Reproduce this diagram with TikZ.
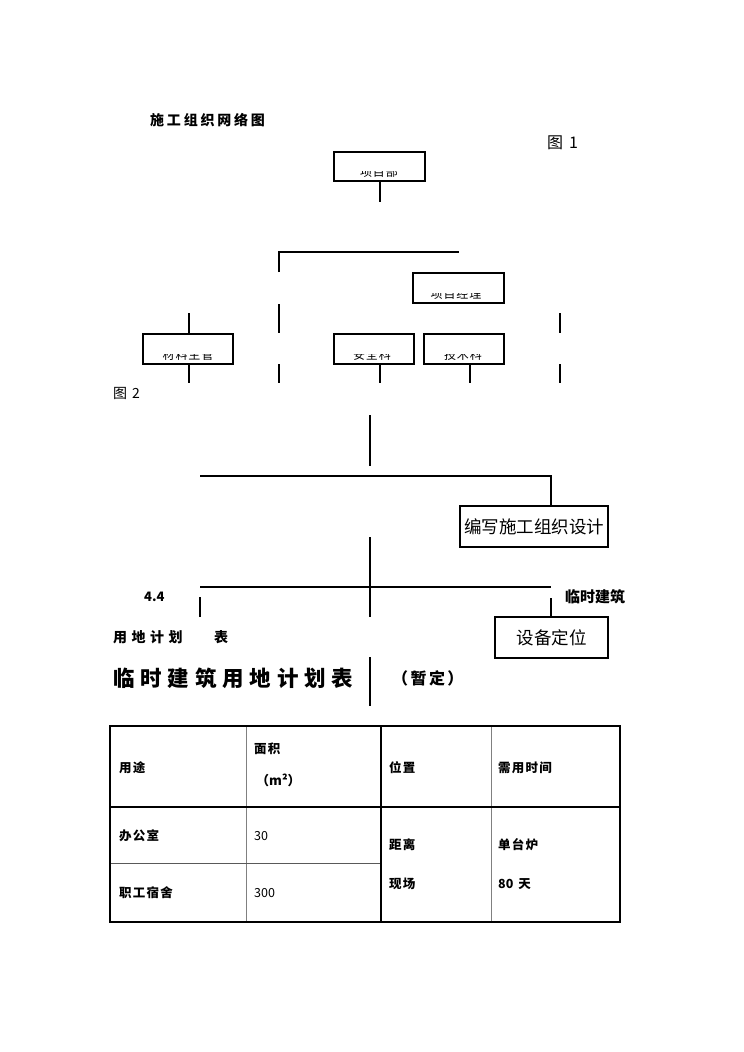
\documentclass[tikz,border=0pt]{standalone}
\usepackage{fontspec}
\setmainfont{Noto Sans CJK SC}
\tikzset{
  box/.style={draw, line width=1.4pt, inner sep=0pt},
  link/.style={line width=1.4pt},
  thickline/.style={line width=2pt},
  boxlabel/.style={anchor=base, inner sep=0pt, font=\fontsize{12}{12}\selectfont\addfontfeature{LetterSpace=8}},
  cell/.style={anchor=west, inner sep=0pt, font=\fontsize{12.5}{12.5}\selectfont\bfseries\addfontfeature{LetterSpace=10}},
  num/.style={anchor=west, inner sep=0pt, font=\fontsize{12.5}{12.5}\selectfont}
}
\begin{document}
\begin{tikzpicture}[x=1pt, y=-1pt]
            \useasboundingbox (0,0) rectangle (744,1052);

            % Titles
            \node[anchor=west, inner sep=0pt, font=\fontsize{14}{14}\selectfont\bfseries\addfontfeature{LetterSpace=20}] (title) at (150,120) {施工组织网络图};
            \node[anchor=west, inner sep=0pt, font=\fontsize{16}{16}\selectfont] (fig1) at (547,143) {图\hspace{6pt}1};
            \node[anchor=west, inner sep=0pt, font=\fontsize{14}{14}\selectfont] (fig2) at (113,393) {图\hspace{5pt}2};

            % Boxes of figure 1
            \node[box, minimum width=91pt, minimum height=29pt] (dept) at (379.5,166.5) {};
            \node[box, minimum width=91pt, minimum height=30pt] (mgr) at (458.5,288) {};
            \node[box, minimum width=90pt, minimum height=30pt] (mat) at (188,349) {};
            \node[box, minimum width=80pt, minimum height=30pt] (safe) at (374,349) {};
            \node[box, minimum width=80pt, minimum height=30pt] (tech) at (464,349) {};

            % Labels, cut off at the top as in the original
            \begin{scope}
              \clip (dept.south west) rectangle ([yshift=10pt]dept.south east);
              \node[boxlabel] (deptlabel) at (379,176) {项目部};
            \end{scope}
            \begin{scope}
              \clip (mgr.south west) rectangle ([yshift=10pt]mgr.south east);
              \node[boxlabel] (mgrlabel) at (456,298) {项目经理};
            \end{scope}
            \begin{scope}
              \clip (mat.south west) rectangle ([yshift=10pt]mat.south east);
              \node[boxlabel] (matlabel) at (188,359) {材料主管};
            \end{scope}
            \begin{scope}
              \clip (safe.south west) rectangle ([yshift=10pt]safe.south east);
              \node[boxlabel] (safelabel) at (372,359) {安全科};
            \end{scope}
            \begin{scope}
              \clip (tech.south west) rectangle ([yshift=10pt]tech.south east);
              \node[boxlabel] (techlabel) at (463,359) {技术科};
            \end{scope}

            % Line ends of figure 1
            \coordinate (deptend) at (380,202);
            \coordinate (brl) at (279,272);
            \coordinate (brc) at (279,252);
            \coordinate (brr) at (459,252);
            \coordinate (la1) at (279,304);
            \coordinate (la2) at (279,333);
            \coordinate (lb1) at (279,364);
            \coordinate (lb2) at (279,383);
            \coordinate (ra1) at (560,313);
            \coordinate (ra2) at (560,333);
            \coordinate (rb1) at (560,364);
            \coordinate (rb2) at (560,383);
            \coordinate (mattop) at (189,313);
            \coordinate (matend) at (189,383);
            \coordinate (safeend) at (380,383);
            \coordinate (techend) at (470,383);

            \draw[link] (dept.south -| deptend) -- (deptend);
            \draw[link] (brl) -- (brc) -- (brr);
            \draw[link] (la1) -- (la2);
            \draw[link] (lb1) -- (lb2);
            \draw[link] (ra1) -- (ra2);
            \draw[link] (rb1) -- (rb2);
            \draw[link] (mattop) -- (mattop |- mat.north);
            \draw[link] (matend |- mat.south) -- (matend);
            \draw[link] (safeend |- safe.south) -- (safeend);
            \draw[link] (techend |- tech.south) -- (techend);

            % Figure 2
            \node[box, minimum width=148pt, minimum height=41pt, font=\fontsize{17.5}{17.5}\selectfont] (write) at (534,526.5) {编写施工组织设计};
            \node[box, minimum width=113pt, minimum height=41pt, font=\fontsize{17.5}{17.5}\selectfont] (equip) at (551.5,637.5) {设备定位};

            \coordinate (s1a) at (370,415);
            \coordinate (s1b) at (370,466);
            \coordinate (h1l) at (200,476);
            \coordinate (h1r) at (551,476);
            \coordinate (s2a) at (370,537);
            \coordinate (s2b) at (370,617);
            \coordinate (h2l) at (200,587);
            \coordinate (h2r) at (551,587);
            \coordinate (d2a) at (200,597);
            \coordinate (d2b) at (200,617);
            \coordinate (d3a) at (551,598);
            \coordinate (s3a) at (370,657);
            \coordinate (s3b) at (370,706);

            \draw[thickline] (s1a) -- (s1b);
            \draw[link] (h1l) -- (h1r) -- (h1r |- write.north);
            \draw[thickline] (s2a) -- (s2b);
            \draw[link] (h2l) -- (h2r);
            \draw[link] (d2a) -- (d2b);
            \draw[link] (d3a) -- (d3a |- equip.north);
            \draw[thickline] (s3a) -- (s3b);

            % Heading texts
            \node[anchor=west, inner sep=0pt, font=\fontsize{13}{13}\selectfont\bfseries] (sec) at (144,597) {4.4};
            \node[anchor=west, inner sep=0pt, font=\fontsize{15}{15}\selectfont\bfseries] (tmp) at (565,597) {临时建筑};
            \node[anchor=west, inner sep=0pt, font=\fontsize{14}{14}\selectfont\bfseries\addfontfeature{LetterSpace=32}] (plan) at (113,637) {用地计划};
            \node[anchor=west, inner sep=0pt, font=\fontsize{14}{14}\selectfont\bfseries] (plantab) at (214,637) {表};
            \node[anchor=west, inner sep=0pt, font=\fontsize{21.5}{21.5}\selectfont\bfseries\addfontfeature{LetterSpace=27}] (tabtitle) at (113,678) {临时建筑用地计划表};
            \node[anchor=west, inner sep=0pt, font=\fontsize{16}{16}\selectfont\bfseries\addfontfeature{LetterSpace=15}] (tabnote) at (392,678) {（暂定）};

            % Table
            \draw[line width=1pt, gray] (246,726) -- (246,922);
            \draw[line width=1pt, gray] (491,726) -- (491,922);
            \draw[line width=1pt, gray!70!black] (110,863) -- (381,863);
            \draw[line width=1.3pt] (110,807) -- (620,807);
            \draw[line width=1.5pt] (381,726) -- (381,922);
            \draw[line width=2pt] (110,726) rectangle (620,922);

            \node[cell] (use) at (119,768) {用途};
            \node[cell] (area) at (254,749) {面积};
            \node[num, font=\fontsize{13}{13}\selectfont\bfseries] (unit) at (256,780) {（m²）};
            \node[cell] (place) at (389,768) {位置};
            \node[cell] (time) at (498,768) {需用时间};
            \node[cell] (office) at (119,836) {办公室};
            \node[num] (officearea) at (254,836) {30};
            \node[cell] (dorm) at (119,893) {职工宿舍};
            \node[num] (dormarea) at (254,893) {300};
            \node[cell] (dist) at (389,845) {距离};
            \node[cell] (site) at (389,884) {现场};
            \node[cell] (furnace) at (498,845) {单台炉};
            \node[num, font=\fontsize{12.5}{12.5}\selectfont\bfseries] (days) at (498,884) {80\hspace{5pt}天};
        \end{tikzpicture}
\end{document}
